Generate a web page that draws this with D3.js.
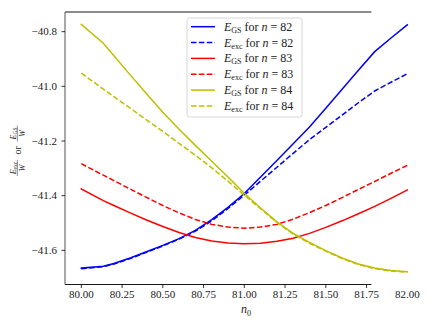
<!DOCTYPE html>
<html><head><meta charset="utf-8">
<script src="https://cdn.jsdelivr.net/npm/d3@7"></script>
<style>body{margin:0;background:#fff}svg{display:block}text{font-family:"Liberation Serif",serif;fill:#222}</style>
</head><body><svg id="c" width="436" height="327"></svg>
<script>
const n0 = [80, 80.135, 80.2, 80.3, 80.4, 80.5, 80.6, 80.7, 80.8, 80.9, 81.0, 81.1, 81.2, 81.3, 81.4, 81.5, 81.6, 81.7, 81.8, 81.9, 82.0];
const gs82 = [-41.665,-41.658,-41.648,-41.628,-41.605,-41.582,-41.557,-41.527,-41.488,-41.443,-41.392,-41.332,-41.271,-41.210,-41.149,-41.080,-41.011,-40.941,-40.873,-40.823,-40.775];
const exc82 = [-41.667,-41.660,-41.650,-41.630,-41.607,-41.584,-41.559,-41.530,-41.492,-41.447,-41.398,-41.347,-41.296,-41.245,-41.195,-41.150,-41.105,-41.060,-41.017,-40.985,-40.954];
const gs83 = [-41.375,-41.418,-41.436,-41.463,-41.489,-41.513,-41.535,-41.553,-41.566,-41.573,-41.576,-41.574,-41.567,-41.556,-41.538,-41.516,-41.492,-41.466,-41.439,-41.410,-41.379];
const exc83 = [-41.283,-41.325,-41.345,-41.376,-41.406,-41.436,-41.463,-41.487,-41.505,-41.515,-41.519,-41.515,-41.505,-41.486,-41.462,-41.436,-41.407,-41.377,-41.348,-41.318,-41.289];
const gs84 = [-40.773,-40.842,-40.888,-40.958,-41.027,-41.095,-41.157,-41.216,-41.274,-41.332,-41.391,-41.445,-41.496,-41.538,-41.571,-41.601,-41.628,-41.650,-41.665,-41.674,-41.678];
const exc84 = [-40.952,-41.010,-41.038,-41.080,-41.123,-41.165,-41.209,-41.252,-41.298,-41.347,-41.398,-41.448,-41.498,-41.541,-41.574,-41.603,-41.630,-41.652,-41.667,-41.676,-41.680];
const xTicks = [80.00, 80.25, 80.50, 80.75, 81.00, 81.25, 81.50, 81.75, 82.00];
const yTicks = [-40.8, -41.0, -41.2, -41.4, -41.6];
const xlim = [79.9, 81.78];
const ylim = [-41.725, -40.728];
const nVals = [82, 82, 83, 83, 84, 84];

const svg = d3.select("#c");
const x = d3.scaleLinear().domain([80, 82]).range([81.3, 407.3]);
const y = d3.scaleLinear().domain(ylim).range([284.5, 12]);

const series = [
  {v: gs82, c: "#0000ff", d: null, k: "GS", n: nVals[0]},
  {v: exc82, c: "#0000ff", d: "5.5,2.4", k: "exc", n: nVals[1]},
  {v: gs83, c: "#ff0000", d: null, k: "GS", n: nVals[2]},
  {v: exc83, c: "#ff0000", d: "5.5,2.4", k: "exc", n: nVals[3]},
  {v: gs84, c: "#bfbf00", d: null, k: "GS", n: nVals[4]},
  {v: exc84, c: "#bfbf00", d: "5.5,2.4", k: "exc", n: nVals[5]},
];

const X0 = x(xlim[0]), X1 = x(xlim[1]), Y0 = y(ylim[0]), Y1 = y(ylim[1]);

const line = d3.line().x((d,i)=>x(n0[i])).y(d=>y(d));
series.forEach(s=>{
  svg.append("path").attr("d", line(s.v)).attr("fill","none")
    .attr("stroke", s.c).attr("stroke-width",1.5)
    .attr("stroke-dasharray", s.d).attr("stroke-linecap", s.d ? "butt" : "square");
});

// spines
svg.append("line").attr("x1",X0).attr("x2",X1).attr("y1",Y1).attr("y2",Y1).attr("stroke","#000").attr("stroke-width",0.9);
svg.append("line").attr("x1",X0).attr("x2",X1).attr("y1",Y0).attr("y2",Y0).attr("stroke","#000").attr("stroke-width",0.9);
svg.append("line").attr("x1",X0).attr("x2",X0).attr("y1",Y1).attr("y2",Y0).attr("stroke","#555").attr("stroke-width",1);

// x ticks
xTicks.forEach(t=>{
  const px = x(t);
  if (t <= xlim[1]) svg.append("line").attr("x1",px).attr("x2",px).attr("y1",Y0).attr("y2",Y0+3.5).attr("stroke","#000").attr("stroke-width",0.8);
  svg.append("text").attr("x",px).attr("y",298).attr("text-anchor","middle").attr("font-size",11).text(d3.format(".2f")(t));
});
// y ticks
yTicks.forEach(t=>{
  const py = y(t);
  svg.append("line").attr("x1",X0-3.5).attr("x2",X0).attr("y1",py).attr("y2",py).attr("stroke","#000").attr("stroke-width",0.8);
  svg.append("text").attr("x",57).attr("y",py+3.8).attr("text-anchor","end").attr("font-size",11).text(d3.format(".1f")(t).replace("-","\u2212"));
});

// x label
const xl = svg.append("text").attr("x",241).attr("y",313).attr("font-size",12);
xl.append("tspan").attr("font-style","italic").text("n");
xl.append("tspan").attr("font-size",8).attr("dy",2.5).text("0");

// y label (rotated, fractions)
const yl = svg.append("g").attr("transform","translate(18,151) rotate(-90)");
function frac(g, cx, numMain, numSub){
  const t = g.append("text").attr("x",cx).attr("y",-2.3).attr("text-anchor","middle").attr("font-size",8);
  t.append("tspan").attr("font-style","italic").text(numMain);
  t.append("tspan").attr("font-size",5.5).attr("dy",1.5).text(numSub);
  g.append("line").attr("x1",cx-8).attr("x2",cx+8).attr("y1",-0.6).attr("y2",-0.6).attr("stroke","#222").attr("stroke-width",0.5);
  g.append("text").attr("x",cx).attr("y",6.5).attr("text-anchor","middle").attr("font-size",8).attr("font-style","italic").text("W");
}
frac(yl, -17, "E", "exc");
yl.append("text").attr("x",0.7).attr("y",2.8).attr("text-anchor","middle").attr("font-size",10).text("or");
frac(yl, 17.5, "E", "GS");

// legend
const lg = svg.append("g");
lg.append("rect").attr("x",187).attr("y",18).attr("width",115).attr("height",99).attr("rx",2.5)
  .attr("fill","#fff").attr("fill-opacity",0.8).attr("stroke","#ccc").attr("stroke-width",0.8);
series.forEach((s,i)=>{
  const cy = 26.7 + i*15.85;
  lg.append("line").attr("x1",191).attr("x2",215).attr("y1",cy).attr("y2",cy)
    .attr("stroke",s.c).attr("stroke-width",1.5).attr("stroke-dasharray",s.d);
  const t = lg.append("text").attr("x",224).attr("y",cy+4).attr("font-size",12);
  t.append("tspan").attr("font-style","italic").text("E");
  t.append("tspan").attr("font-size",8).attr("dy",2).text(s.k);
  t.append("tspan").attr("dy",-2).text(" for ");
  t.append("tspan").attr("font-style","italic").text("n");
  t.append("tspan").text(" = " + s.n);
});
</script></body></html>
